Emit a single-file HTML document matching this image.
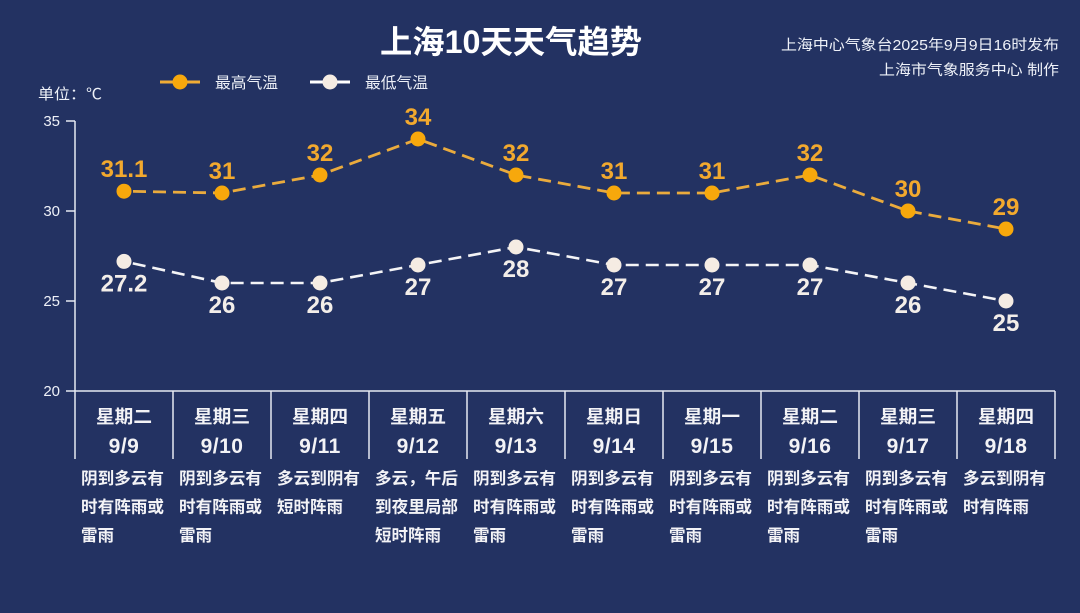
<!DOCTYPE html>
<html><head><meta charset="utf-8"><style>
html,body{margin:0;padding:0;background:#233262;}
svg{display:block;}
</style></head><body>
<svg width="1080" height="613" viewBox="0 0 1080 613" xmlns="http://www.w3.org/2000/svg" font-family="'Liberation Sans','Noto Sans CJK SC',sans-serif">
<rect x="0" y="0" width="1080" height="613" fill="#233262"/>

<!-- title -->
<text x="380" y="53" font-size="32" font-weight="bold" fill="#ffffff" textLength="262" lengthAdjust="spacingAndGlyphs">上海10天天气趋势</text>
<!-- right header -->
<text x="1059" y="50" font-size="14.5" fill="#eef1f8" text-anchor="end" textLength="278" lengthAdjust="spacingAndGlyphs">上海中心气象台2025年9月9日16时发布</text>
<text x="1059" y="75" font-size="14.5" fill="#eef1f8" text-anchor="end" textLength="180" lengthAdjust="spacingAndGlyphs">上海市气象服务中心 制作</text>

<!-- legend -->
<line x1="160" y1="82" x2="200" y2="82" stroke="#f0ac35" stroke-width="3"/>
<circle cx="180" cy="82" r="7.5" fill="#f7a80c"/>
<text x="215" y="88" font-size="15.5" fill="#eef1f8" textLength="63" lengthAdjust="spacingAndGlyphs">最高气温</text>
<line x1="310" y1="82" x2="350" y2="82" stroke="#ffffff" stroke-width="3"/>
<circle cx="330" cy="82" r="7.5" fill="#f5ece3"/>
<text x="365" y="88" font-size="15.5" fill="#eef1f8" textLength="63" lengthAdjust="spacingAndGlyphs">最低气温</text>

<!-- unit -->
<text x="38" y="99" font-size="15" fill="#eef1f8" textLength="64" lengthAdjust="spacingAndGlyphs">单位：℃</text>

<!-- y axis -->
<g stroke="#e6e9f2" stroke-width="1.5" fill="none">
<line x1="75" y1="121" x2="75" y2="459"/>
<line x1="66" y1="121" x2="75" y2="121"/>
<line x1="66" y1="211" x2="75" y2="211"/>
<line x1="66" y1="301" x2="75" y2="301"/>
<line x1="66" y1="391" x2="1055" y2="391"/>
<line x1="173" y1="391" x2="173" y2="459"/>
<line x1="271" y1="391" x2="271" y2="459"/>
<line x1="369" y1="391" x2="369" y2="459"/>
<line x1="467" y1="391" x2="467" y2="459"/>
<line x1="565" y1="391" x2="565" y2="459"/>
<line x1="663" y1="391" x2="663" y2="459"/>
<line x1="761" y1="391" x2="761" y2="459"/>
<line x1="859" y1="391" x2="859" y2="459"/>
<line x1="957" y1="391" x2="957" y2="459"/>
<line x1="1055" y1="391" x2="1055" y2="459"/>
</g>
<g font-size="15" fill="#eef1f8" text-anchor="end">
<text x="60" y="126">35</text>
<text x="60" y="216">30</text>
<text x="60" y="306">25</text>
<text x="60" y="396">20</text>
</g>

<!-- high line -->
<polyline points="124,191.2 222,193 320,175 418,139 516,175 614,193 712,193 810,175 908,211 1006,229" fill="none" stroke="#eaab3d" stroke-width="2.8" stroke-dasharray="13 7" stroke-dashoffset="-9"/>
<g fill="#f7a80c">
<circle cx="124" cy="191.2" r="7.5"/><circle cx="222" cy="193" r="7.5"/><circle cx="320" cy="175" r="7.5"/><circle cx="418" cy="139" r="7.5"/><circle cx="516" cy="175" r="7.5"/><circle cx="614" cy="193" r="7.5"/><circle cx="712" cy="193" r="7.5"/><circle cx="810" cy="175" r="7.5"/><circle cx="908" cy="211" r="7.5"/><circle cx="1006" cy="229" r="7.5"/>
</g>
<g font-size="24" font-weight="bold" fill="#f2a92e" text-anchor="middle">
<text x="124" y="177">31.1</text><text x="222" y="179">31</text><text x="320" y="161">32</text><text x="418" y="125">34</text><text x="516" y="161">32</text><text x="614" y="179">31</text><text x="712" y="179">31</text><text x="810" y="161">32</text><text x="908" y="197">30</text><text x="1006" y="215">29</text>
</g>

<!-- low line -->
<polyline points="124,261.4 222,283 320,283 418,265 516,247 614,265 712,265 810,265 908,283 1006,301" fill="none" stroke="#f4f4f6" stroke-width="2.6" stroke-dasharray="13 7" stroke-dashoffset="-9"/>
<g fill="#f5ece3">
<circle cx="124" cy="261.4" r="7.5"/><circle cx="222" cy="283" r="7.5"/><circle cx="320" cy="283" r="7.5"/><circle cx="418" cy="265" r="7.5"/><circle cx="516" cy="247" r="7.5"/><circle cx="614" cy="265" r="7.5"/><circle cx="712" cy="265" r="7.5"/><circle cx="810" cy="265" r="7.5"/><circle cx="908" cy="283" r="7.5"/><circle cx="1006" cy="301" r="7.5"/>
</g>
<g font-size="24" font-weight="bold" fill="#f3eee9" text-anchor="middle">
<text x="124" y="291.5">27.2</text><text x="222" y="313">26</text><text x="320" y="313">26</text><text x="418" y="295">27</text><text x="516" y="277">28</text><text x="614" y="295">27</text><text x="712" y="295">27</text><text x="810" y="295">27</text><text x="908" y="313">26</text><text x="1006" y="331">25</text>
</g>

<!-- day labels -->
<g font-size="18" font-weight="bold" fill="#f3f3f6" text-anchor="middle">
<text x="124" y="423" textLength="56" lengthAdjust="spacingAndGlyphs">星期二</text>
<text x="222" y="423" textLength="56" lengthAdjust="spacingAndGlyphs">星期三</text>
<text x="320" y="423" textLength="56" lengthAdjust="spacingAndGlyphs">星期四</text>
<text x="418" y="423" textLength="56" lengthAdjust="spacingAndGlyphs">星期五</text>
<text x="516" y="423" textLength="56" lengthAdjust="spacingAndGlyphs">星期六</text>
<text x="614" y="423" textLength="56" lengthAdjust="spacingAndGlyphs">星期日</text>
<text x="712" y="423" textLength="56" lengthAdjust="spacingAndGlyphs">星期一</text>
<text x="810" y="423" textLength="56" lengthAdjust="spacingAndGlyphs">星期二</text>
<text x="908" y="423" textLength="56" lengthAdjust="spacingAndGlyphs">星期三</text>
<text x="1006" y="423" textLength="56" lengthAdjust="spacingAndGlyphs">星期四</text>
</g>
<g font-size="21" font-weight="bold" fill="#f3f3f6" text-anchor="middle" letter-spacing="0.5">
<text x="124" y="453">9/9</text>
<text x="222" y="453">9/10</text>
<text x="320" y="453">9/11</text>
<text x="418" y="453">9/12</text>
<text x="516" y="453">9/13</text>
<text x="614" y="453">9/14</text>
<text x="712" y="453">9/15</text>
<text x="810" y="453">9/16</text>
<text x="908" y="453">9/17</text>
<text x="1006" y="453">9/18</text>
</g>

<!-- descriptions -->
<g font-size="16.5" font-weight="bold" fill="#f3f3f6">
<text x="81" y="484" textLength="83" lengthAdjust="spacingAndGlyphs">阴到多云有</text>
<text x="81" y="512.5" textLength="83" lengthAdjust="spacingAndGlyphs">时有阵雨或</text>
<text x="81" y="541" textLength="33" lengthAdjust="spacingAndGlyphs">雷雨</text>

<text x="179" y="484" textLength="83" lengthAdjust="spacingAndGlyphs">阴到多云有</text>
<text x="179" y="512.5" textLength="83" lengthAdjust="spacingAndGlyphs">时有阵雨或</text>
<text x="179" y="541" textLength="33" lengthAdjust="spacingAndGlyphs">雷雨</text>

<text x="277" y="484" textLength="83" lengthAdjust="spacingAndGlyphs">多云到阴有</text>
<text x="277" y="512.5" textLength="66" lengthAdjust="spacingAndGlyphs">短时阵雨</text>

<text x="375" y="484" textLength="83" lengthAdjust="spacingAndGlyphs">多云，午后</text>
<text x="375" y="512.5" textLength="83" lengthAdjust="spacingAndGlyphs">到夜里局部</text>
<text x="375" y="541" textLength="66" lengthAdjust="spacingAndGlyphs">短时阵雨</text>

<text x="473" y="484" textLength="83" lengthAdjust="spacingAndGlyphs">阴到多云有</text>
<text x="473" y="512.5" textLength="83" lengthAdjust="spacingAndGlyphs">时有阵雨或</text>
<text x="473" y="541" textLength="33" lengthAdjust="spacingAndGlyphs">雷雨</text>

<text x="571" y="484" textLength="83" lengthAdjust="spacingAndGlyphs">阴到多云有</text>
<text x="571" y="512.5" textLength="83" lengthAdjust="spacingAndGlyphs">时有阵雨或</text>
<text x="571" y="541" textLength="33" lengthAdjust="spacingAndGlyphs">雷雨</text>

<text x="669" y="484" textLength="83" lengthAdjust="spacingAndGlyphs">阴到多云有</text>
<text x="669" y="512.5" textLength="83" lengthAdjust="spacingAndGlyphs">时有阵雨或</text>
<text x="669" y="541" textLength="33" lengthAdjust="spacingAndGlyphs">雷雨</text>

<text x="767" y="484" textLength="83" lengthAdjust="spacingAndGlyphs">阴到多云有</text>
<text x="767" y="512.5" textLength="83" lengthAdjust="spacingAndGlyphs">时有阵雨或</text>
<text x="767" y="541" textLength="33" lengthAdjust="spacingAndGlyphs">雷雨</text>

<text x="865" y="484" textLength="83" lengthAdjust="spacingAndGlyphs">阴到多云有</text>
<text x="865" y="512.5" textLength="83" lengthAdjust="spacingAndGlyphs">时有阵雨或</text>
<text x="865" y="541" textLength="33" lengthAdjust="spacingAndGlyphs">雷雨</text>

<text x="963" y="484" textLength="83" lengthAdjust="spacingAndGlyphs">多云到阴有</text>
<text x="963" y="512.5" textLength="66" lengthAdjust="spacingAndGlyphs">时有阵雨</text>
</g>
</svg>
</body></html>
